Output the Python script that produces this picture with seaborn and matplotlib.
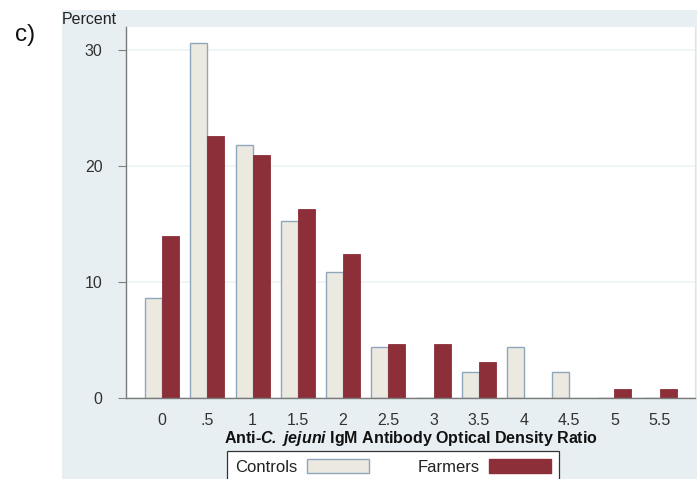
import matplotlib
matplotlib.use("Agg")
import matplotlib.pyplot as plt
import seaborn as sns
import pandas as pd
from matplotlib.patches import Rectangle, Patch

categories = ["0", ".5", "1", "1.5", "2", "2.5", "3", "3.5", "4", "4.5", "5", "5.5"]
controls = [8.6, 30.6, 21.8, 15.3, 10.9, 4.4, 0.0, 2.2, 4.4, 2.2, 0.0, 0.0]
farmers = [14.0, 22.6, 21.0, 16.3, 12.4, 4.7, 4.7, 3.1, 0.0, 0.0, 0.8, 0.8]
groups = ["Controls", "Farmers"]
yticks = [0, 10, 20, 30]

df = pd.DataFrame({
    "ratio": categories * 2,
    "percent": controls + farmers,
    "group": [groups[0]] * len(categories) + [groups[1]] * len(categories),
})

sns.set_theme(style="white")
plt.rcParams["font.family"] = ["Liberation Sans", "DejaVu Sans"]
plt.rcParams["mathtext.fontset"] = "custom"
plt.rcParams["mathtext.rm"] = "Liberation Sans"
plt.rcParams["mathtext.bf"] = "Liberation Sans:bold"
plt.rcParams["mathtext.it"] = "Liberation Sans:italic"
try:
    plt.rcParams["mathtext.bfit"] = "Liberation Sans:bold:italic"
    bfit = True
except Exception:
    bfit = False

W, H = 697, 479
fig = plt.figure(figsize=(W / 100, H / 100), dpi=100)
fig.patch.set_facecolor("white")
panel = Rectangle((62 / W, 0), 1 - 62 / W, (H - 10) / H, transform=fig.transFigure,
                  facecolor="#E8EFF2", edgecolor="none", zorder=-10)
fig.patches.append(panel)

ax_h = 398 - 27
ax = fig.add_axes([126 / W, (H - 398) / H, (695 - 126) / W, ax_h / H])
ax.set_zorder(1)
ax.set_facecolor("white")

c_fill, c_edge = "#ECEAE0", "#8FA7BD"
f_fill, f_edge = "#8C2F38", "#8C2F38"
sns.barplot(data=df, x="ratio", y="percent", hue="group", order=categories,
            hue_order=groups, palette=[c_fill, f_fill], width=0.75,
            ax=ax, legend=False, saturation=1)
for bar in ax.containers[0]:
    bar.set_edgecolor(c_edge)
    bar.set_linewidth(1.0)
for bar in ax.containers[1]:
    bar.set_edgecolor(f_edge)
    bar.set_linewidth(0.6)

ax.set_xlim(-0.8, 11.78)
ax.set_ylim(0, 32)
ax.set_yticks(yticks)
ax.set_yticklabels([str(v) for v in yticks])
ax.yaxis.grid(True, color="#EEF3F5", linewidth=1.2)
ax.set_axisbelow(True)
ax.tick_params(axis="y", length=6, width=0.8, color="#808080", pad=11,
               labelsize=11.5, labelcolor="#333333", left=True)
ax.tick_params(axis="x", length=0, pad=11, labelsize=11.5, labelcolor="#333333")
ax.spines["top"].set_visible(False)
ax.spines["right"].set_color("#DDE3E6")
ax.spines["right"].set_linewidth(0.8)
for s in ["left", "bottom"]:
    ax.spines[s].set_color("#7A7A7A")
    ax.spines[s].set_linewidth(1.0)
ax.set_ylabel("")
if bfit:
    xl = r"Anti-$\mathbfit{C.}$ $\mathbfit{jejuni}$ IgM Antibody Optical Density Ratio"
else:
    xl = "Anti-C. jejuni IgM Antibody Optical Density Ratio"
ax.set_xlabel(xl, fontsize=11.5, fontweight="bold", color="#111111")
ax.xaxis.label.set_va("center")
ax.xaxis.set_label_coords(0.5, -(439 - 398) / ax_h)

fig.text(62 / W, 1 - 19 / H, "Percent", fontsize=11.5, color="#222222",
         ha="left", va="center")
fig.text(15 / W, 1 - 35 / H, "c)", fontsize=17.5, color="#111111",
         ha="left", va="center")

handles = [Patch(facecolor=c_fill, edgecolor=c_edge, linewidth=1.0),
           Patch(facecolor=f_fill, edgecolor=f_edge)]
leg = fig.legend(handles, groups, loc="upper center",
                 bbox_to_anchor=(393 / W, 1 - 451 / H), ncol=2,
                 markerfirst=False, frameon=True, fancybox=False, framealpha=1,
                 fontsize=12, handlelength=3.7, handleheight=1.0,
                 handletextpad=0.6, columnspacing=2.9, borderpad=0.45,
                 borderaxespad=0)
leg.get_frame().set_edgecolor("#333333")
leg.get_frame().set_linewidth(0.9)
leg.get_frame().set_facecolor("white")
for t in leg.get_texts():
    t.set_color("#222222")

fig.savefig("out.png", dpi=100)
